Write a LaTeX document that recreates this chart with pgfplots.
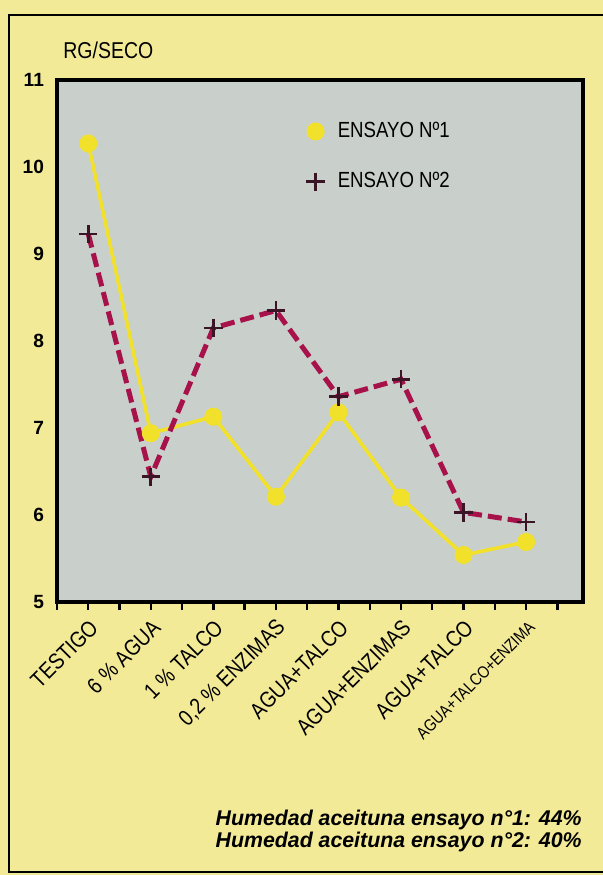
\documentclass[border=0pt]{standalone}
\usepackage{fontspec}
\setmainfont{Liberation Sans}
\newfontfamily\condfont{Liberation Sans}[FakeStretch=0.85]
\usepackage{pgfplots}
\pgfplotsset{compat=1.18}

\definecolor{bgyellow}{HTML}{F3EA98}
\definecolor{plotgray}{HTML}{C9CFCA}
\definecolor{lineyellow}{HTML}{F2E12A}
\definecolor{crimson}{HTML}{A8124A}
\definecolor{markdark}{HTML}{3B1525}

\begin{document}
\begin{tikzpicture}
% page background and frame (right side open, as in the scan)
\fill[bgyellow] (-28.5bp,-136.5bp) rectangle (273bp,301bp);
\useasboundingbox (-28.5bp,-136.5bp) rectangle (273bp,301bp);
\draw[line width=1.2bp] (280bp,293.5bp) -- (-24bp,293.5bp) -- (-24bp,-135bp) -- (280bp,-135bp);

\begin{axis}[
  at={(0,0)}, anchor=south west,
  scale only axis, width=263bp, height=261bp,
  xmin=0, xmax=16.82, ymin=5, ymax=11,
  axis background/.style={fill=plotgray},
  axis line style={line width=1.6bp},
  xtick={1,3,5,7,9,11,13,15},
  minor xtick={0,2,4,6,8,10,12,14,16},
  xticklabels={TESTIGO,6 \% AGUA,1 \% TALCO,{0,2 \% ENZIMAS},AGUA+TALCO,AGUA+ENZIMAS,AGUA+TALCO,{\fontsize{8.5}{9}\selectfont AGUA+TALCO+ENZIMA}},
  tick align=outside,
  xtick pos=bottom,
  major tick length=4bp, minor tick length=4bp,
  x tick style={line width=1.2bp, black},
  xticklabel style={rotate=45, anchor=east, xshift=0.5bp, yshift=-7bp,
    font=\condfont\fontsize{11.3}{12}\selectfont},
  ytick={5,6,7,8,9,10,11},
  yticklabels={5,6,7,8,9,10,11},
  ytick style={draw=none},
  yticklabel style={font=\bfseries\fontsize{9.6}{10}\selectfont, xshift=1bp},
  legend image code/.code={\draw[#1,only marks] plot coordinates {(0.15cm,0cm)};},
  legend style={at={(0.462,0.935)}, anchor=north west, draw=none, fill=none,
    font=\condfont\fontsize{11}{12}\selectfont, row sep=12bp,
    /tikz/every odd column/.append style={column sep=4.5bp}},
  legend cell align=left,
]
\addplot[lineyellow, line width=1.8bp, mark=*, mark size=3.6bp,
  mark options={fill=lineyellow, draw=lineyellow}]
  coordinates {(1,10.27) (3,6.94) (5,7.13) (7,6.21) (9,7.18) (11,6.20) (13,5.54) (15,5.69)};
\addplot[crimson, line width=2.5bp, dash pattern=on 7bp off 3bp,
  mark=+, mark size=4.6bp, mark options={solid, draw=markdark, line width=1.4bp}]
  coordinates {(1,9.23) (3,6.44) (5,8.15) (7,8.35) (9,7.36) (11,7.56) (13,6.03) (15,5.92)};
\legend{ENSAYO Nº1, ENSAYO Nº2}
\end{axis}

\node[anchor=base west, font=\condfont\fontsize{11.5}{12}\selectfont, inner sep=0pt] at (3bp,271.5bp) {RG/SECO};
\node[anchor=base east, font=\bfseries\itshape\fontsize{10.7}{12}\selectfont, inner sep=0pt]
  at (262.5bp,-111.5bp) {Humedad aceituna ensayo n°1: 44\%};
\node[anchor=base east, font=\bfseries\itshape\fontsize{10.7}{12}\selectfont, inner sep=0pt]
  at (262.5bp,-122.5bp) {Humedad aceituna ensayo n°2: 40\%};
\end{tikzpicture}
\end{document}
